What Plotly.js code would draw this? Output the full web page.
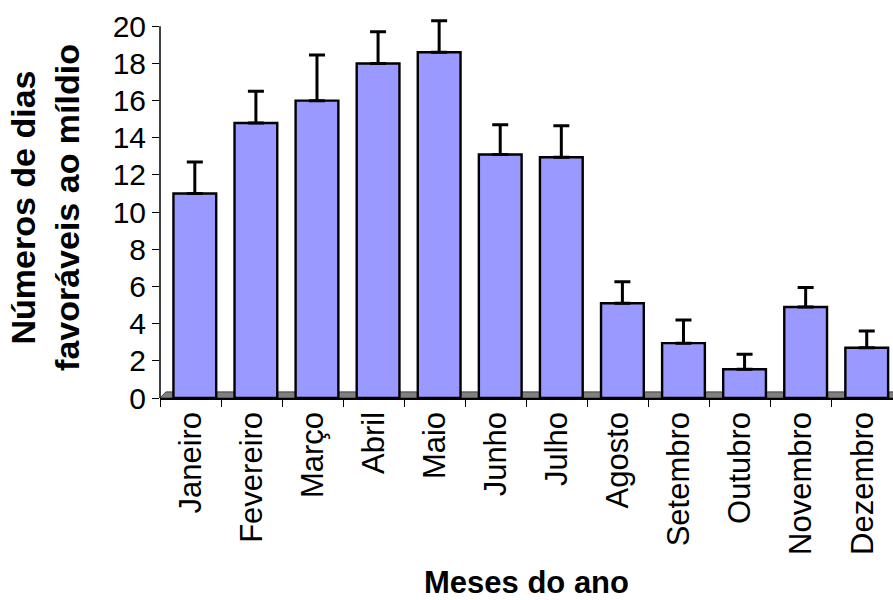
<!DOCTYPE html>
<html>
<head>
<meta charset="utf-8">
<script src="https://cdn.plot.ly/plotly-3.0.1.min.js"></script>
<style>html,body{margin:0;padding:0;background:#fff;}#chart{width:893px;height:600px;}</style>
</head>
<body>
<div id="chart"></div>
<script>
const months = ["Janeiro","Fevereiro","Março","Abril","Maio","Junho","Julho","Agosto","Setembro","Outubro","Novembro","Dezembro"];
const meanDays = [11, 14.8, 16, 18, 18.6, 13.1, 12.95, 5.1, 2.95, 1.55, 4.9, 2.7];
const errPlus = [1.7, 1.7, 2.45, 1.7, 1.7, 1.6, 1.7, 1.15, 1.25, 0.8, 1.05, 0.9];
const errMinus = months.map(() => 0);
const yTicks = [0,2,4,6,8,10,12,14,16,18,20];

const font = "Arial, 'Liberation Sans', sans-serif";

const trace = {
  type: "bar",
  x: months,
  y: meanDays,
  width: 0.70,
  offset: -0.28,
  marker: { color: "#9999FF", line: { color: "#000000", width: 2.4 } },
  error_y: {
    type: "data", symmetric: false, array: errPlus, arrayminus: errMinus,
    color: "#000000", thickness: 3, width: 8, visible: true
  },
  cliponaxis: false,
  hoverinfo: "x+y"
};

const layout = {
  width: 893, height: 600,
  margin: { l: 160, r: 0, t: 17, b: 202, pad: 0 },
  paper_bgcolor: "#ffffff",
  plot_bgcolor: "#ffffff",
  showlegend: false,
  font: { family: font, color: "#000000", size: 30 },
  xaxis: {
    type: "category",
    range: [-0.5, 11.5],
    showline: true, linecolor: "#000000", linewidth: 1.5,
    ticks: "outside", tickson: "boundaries", ticklen: 7, tickwidth: 1, tickcolor: "#000000",
    tickangle: -90,
    tickfont: { family: font, size: 31, color: "#000000" },
    showgrid: false, zeroline: false,
    automargin: false,
    title: { text: "<b>Meses do ano</b>", font: { family: font, size: 31, color: "#000000" }, standoff: 26 }
  },
  yaxis: {
    range: [0, 20.5],
    tickvals: yTicks,
    ticktext: yTicks.map(String),
    showline: false,
    ticks: "outside", ticklen: 7, tickwidth: 1, tickcolor: "#000000",
    tickfont: { family: font, size: 30, color: "#000000" },
    showgrid: false, zeroline: false,
    automargin: false,
    title: { text: "<b>Números de dias<br>favoráveis ao míldio</b>", font: { family: font, size: 34, color: "#000000" }, standoff: 22 }
  },
  shapes: [
    {
      type: "path", xref: "paper", yref: "paper", layer: "below",
      path: "M 0 0 L 1 0 L 1.008 0.016 L 0.008 0.016 Z",
      fillcolor: "#808080", line: { color: "#404040", width: 1 }
    },
    {
      type: "line", xref: "paper", yref: "y", layer: "above",
      x0: 0, x1: 0, y0: 0, y1: 20,
      line: { color: "#000000", width: 1.5 }
    }
  ]
};

Plotly.newPlot("chart", [trace], layout, { displayModeBar: false, staticPlot: true });
</script>
</body>
</html>
